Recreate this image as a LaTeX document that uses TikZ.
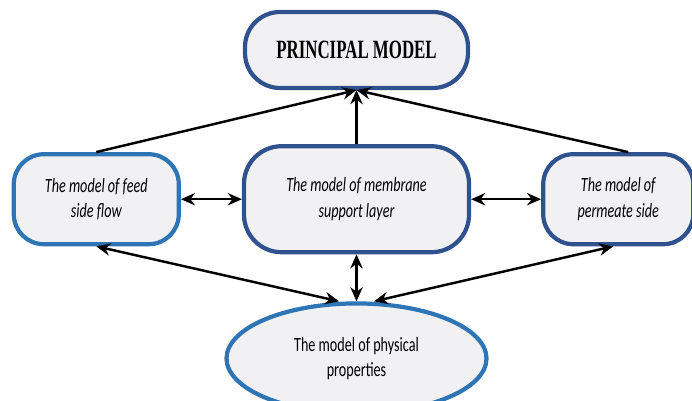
\documentclass[tikz,border=0pt]{standalone}
\usepackage{fontspec}
\setmainfont{Carlito}
\newfontfamily\titlefont[FakeStretch=0.64]{Liberation Serif}
\newfontfamily\labelfont[FakeStretch=0.7]{Carlito}
\usetikzlibrary{shapes.geometric, arrows.meta, positioning}
\definecolor{mynavy}{RGB}{47,82,143}
\definecolor{myblue}{RGB}{46,117,182}
\definecolor{boxgray}{RGB}{241,241,243}
\tikzset{
  navybox/.style={rectangle, draw=mynavy, fill=boxgray,
    align=center, inner sep=0pt, line width=2.4pt},
  bluebox/.style={rectangle, draw=myblue, fill=boxgray,
    align=center, inner sep=0pt, line width=2.4pt},
  blueell/.style={ellipse, draw=myblue, fill=boxgray,
    align=center, inner sep=0pt, line width=2.4pt},
  arrow/.style={-{Stealth[length=8pt,width=7pt]}, line width=1.4pt, color=black},
  dblarrow/.style={{Stealth[length=8pt,width=7pt]}-{Stealth[length=8pt,width=7pt]}, line width=1.4pt, color=black}
}

\begin{document}
\begin{tikzpicture}[font=\labelfont\fontsize{11.5}{14.5}\selectfont]
  \useasboundingbox (0,0) rectangle (13.84,8);
  \node[navybox, minimum width=4.46cm, minimum height=1.52cm, rounded corners=0.7cm,
    font=\titlefont\bfseries\fontsize{15}{18}\selectfont] (principal) at (7.13,7.0) {PRINCIPAL MODEL};
  \node[navybox, minimum width=4.5cm, minimum height=2.12cm, rounded corners=0.75cm,
    below=1.08cm of principal] (membrane) {\itshape The model of membrane\\\itshape support layer};
  \node[bluebox, minimum width=3.3cm, minimum height=1.8cm, rounded corners=0.6cm,
    left=1.22cm of membrane] (feed) {\itshape The model of feed\\\itshape side flow};
  \node[navybox, minimum width=3.0cm, minimum height=1.8cm, rounded corners=0.6cm,
    right=1.4cm of membrane] (permeate) {\itshape The model of\\\itshape permeate side};
  \node[blueell, minimum width=5.2cm, minimum height=2.2cm,
    below=0.94cm of membrane] (physical) {The model of physical\\properties};

  \draw[arrow] (feed.north) -- (principal.south);
  \draw[arrow] (membrane.north) -- (principal.south);
  \draw[arrow] ([xshift=2mm]permeate.north) -- (principal.south);
  \draw[dblarrow] (feed.east) -- (membrane.west);
  \draw[dblarrow] (membrane.east) -- (membrane.east -| permeate.west);
  \draw[dblarrow] (feed.south) -- ([xshift=-3.5mm]physical.north);
  \draw[dblarrow] (membrane.south) -- (physical.north);
  \draw[dblarrow] ([xshift=-1mm]permeate.south) -- ([xshift=3.5mm]physical.north);
\end{tikzpicture}
\end{document}
